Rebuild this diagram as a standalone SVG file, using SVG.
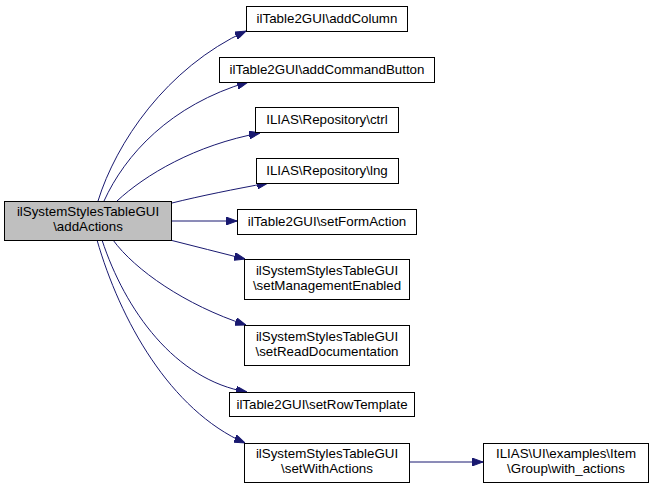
<svg xmlns="http://www.w3.org/2000/svg" width="651" height="489" viewBox="0 0 651 489">
<style>
.n rect{fill:#ffffff;stroke:#000000;stroke-width:1}
.n.main rect{fill:#bfbfbf}
.n text{font-family:"Liberation Sans",Arial,Helvetica,sans-serif;font-size:13.33px;text-anchor:middle;fill:#000000}
.e path{fill:none;stroke:#191970;stroke-width:1;marker-end:url(#ah)}
</style>
<defs>
<marker id="ah" viewBox="0 0 11 8" refX="11" refY="4" markerWidth="11" markerHeight="8" markerUnits="userSpaceOnUse" orient="auto">
<path d="M0,0 L11,4 L0,8 z" fill="#191970" stroke="#191970" stroke-width="1"/>
</marker>
</defs>
<rect x="0" y="0" width="651" height="489" fill="#ffffff"/>
<g id="connectors" class="e">
<path d="M98,201 C116,143 166,68 246,31"/>
<path d="M104,201 C125,155 170,105 248,82"/>
<path d="M117,201 C145,175 195,145 260,133"/>
<path d="M172,203 C200,196 235,189 268,183"/>
<path d="M172,221 L237,221"/>
<path d="M170,240 C195,246 220,253 245,259"/>
<path d="M113,240 C135,270 185,305 246,325"/>
<path d="M102,240 C125,310 175,380 247,392"/>
<path d="M97,240 C120,320 170,410 245,443"/>
<path d="M410,462 L483,462"/>
</g>
<g id="node_main" class="n main">
<rect x="4.5" y="201.5" width="167" height="39"/>
<text x="88" y="216">ilSystemStylesTableGUI</text>
<text x="88" y="231">\addActions</text>
</g>
<g id="node_addColumn" class="n">
<rect x="246.5" y="6.5" width="161" height="25"/>
<text x="327" y="23">ilTable2GUI\addColumn</text>
</g>
<g id="node_addCommandButton" class="n">
<rect x="219.5" y="57.5" width="215" height="25"/>
<text x="327" y="74">ilTable2GUI\addCommandButton</text>
</g>
<g id="node_ctrl" class="n">
<rect x="255.5" y="107.5" width="143" height="25"/>
<text x="327" y="124">ILIAS\Repository\ctrl</text>
</g>
<g id="node_lng" class="n">
<rect x="256.5" y="158.5" width="142" height="25"/>
<text x="327" y="175">ILIAS\Repository\lng</text>
</g>
<g id="node_setFormAction" class="n">
<rect x="237.5" y="209.5" width="179" height="25"/>
<text x="327" y="226">ilTable2GUI\setFormAction</text>
</g>
<g id="node_setManagementEnabled" class="n">
<rect x="244.5" y="259.5" width="165" height="40"/>
<text x="327" y="275">ilSystemStylesTableGUI</text>
<text x="327" y="290">\setManagementEnabled</text>
</g>
<g id="node_setReadDocumentation" class="n">
<rect x="244.5" y="325.5" width="165" height="40"/>
<text x="327" y="341">ilSystemStylesTableGUI</text>
<text x="327" y="356">\setReadDocumentation</text>
</g>
<g id="node_setRowTemplate" class="n">
<rect x="229.5" y="392.5" width="185" height="24"/>
<text x="322" y="409">ilTable2GUI\setRowTemplate</text>
</g>
<g id="node_setWithActions" class="n">
<rect x="244.5" y="443.5" width="165" height="39"/>
<text x="327" y="458">ilSystemStylesTableGUI</text>
<text x="327" y="473">\setWithActions</text>
</g>
<g id="node_with_actions" class="n">
<rect x="483.5" y="443.5" width="165" height="39"/>
<text x="566" y="458">ILIAS\UI\examples\Item</text>
<text x="566" y="473">\Group\with_actions</text>
</g>
</svg>
